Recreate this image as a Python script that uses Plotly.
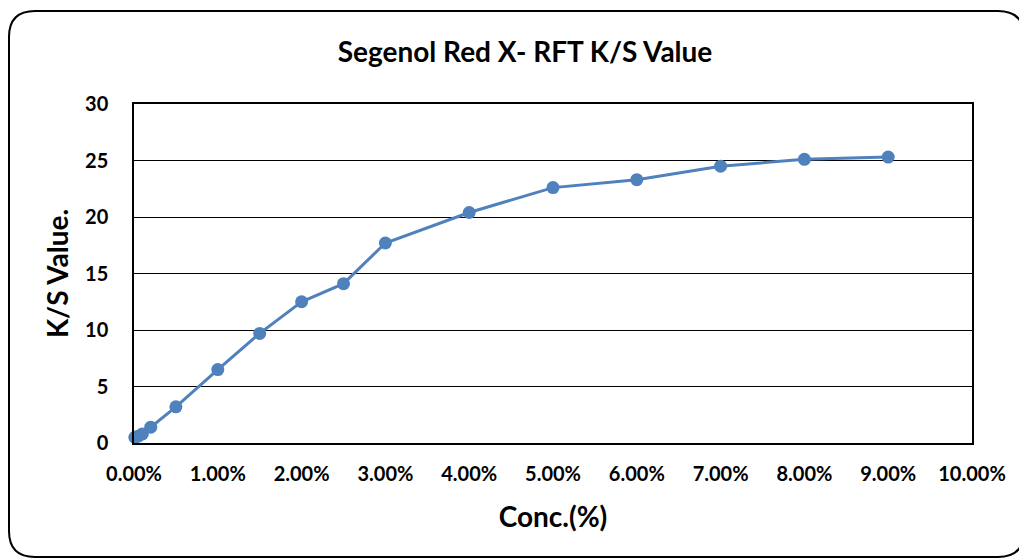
import plotly.graph_objects as go

conc = [0.0001, 0.0005, 0.001, 0.002, 0.005, 0.01, 0.015, 0.02, 0.025, 0.03,
        0.04, 0.05, 0.06, 0.07, 0.08, 0.09]
ks = [0.5, 0.6, 0.8, 1.4, 3.2, 6.5, 9.7, 12.5, 14.1, 17.7,
      20.4, 22.6, 23.3, 24.5, 25.1, 25.3]
x_ticks = [0, 0.01, 0.02, 0.03, 0.04, 0.05, 0.06, 0.07, 0.08, 0.09, 0.10]
y_ticks = [0, 5, 10, 15, 20, 25, 30]

# page body has an 8px margin, so figure coords = screen coords - 8
OFF = 8
W, H = 1027 - OFF, 560 - OFF
L, R, T, B = 134 - OFF, 972 - OFF, 104 - OFF, 443 - OFF
pw, ph = R - L, B - T

def px(x):
    return (x - L) / pw

def py(y):
    return (B - y) / ph

# rounded rectangle border in pixel coords -> paper
x0, x1, y0, y1, r = 1, 1016, 3, 549, 26
path = (f"M {px(x0 + r)} {py(y0)} L {px(x1 - r)} {py(y0)} "
        f"Q {px(x1)} {py(y0)} {px(x1)} {py(y0 + r)} "
        f"L {px(x1)} {py(y1 - r)} Q {px(x1)} {py(y1)} {px(x1 - r)} {py(y1)} "
        f"L {px(x0 + r)} {py(y1)} Q {px(x0)} {py(y1)} {px(x0)} {py(y1 - r)} "
        f"L {px(x0)} {py(y0 + r)} Q {px(x0)} {py(y0)} {px(x0 + r)} {py(y0)} Z")

font = "Lato"
fig = go.Figure()
fig.add_trace(go.Scatter(
    x=conc, y=ks, mode="lines+markers",
    line=dict(color="#4F81BD", width=3),
    marker=dict(color="#4F81BD", size=13),
    showlegend=False, cliponaxis=False,
))
fig.update_layout(
    width=W, height=H,
    margin=dict(l=L, r=W - R, t=T, b=H - B),
    paper_bgcolor="white", plot_bgcolor="white",
    title=dict(text="<b>Segenol Red X- RFT K/S Value</b>", x=px(517), xanchor="center",
               xref="paper", y=1 - 44 / H, yanchor="middle",
               font=dict(family=font, size=28, color="black")),
    xaxis=dict(range=[0, 0.10], tickvals=x_ticks, tickformat=".2%",
               showgrid=False, zeroline=False, showline=True, linecolor="black",
               linewidth=1.5, mirror=True, ticks="",
               tickfont=dict(family=font, size=20, color="black", weight="bold"),
               ticklabelstandoff=12,
               title=dict(text="<b>Conc.(%)</b>", standoff=24,
                          font=dict(family=font, size=28, color="black"))),
    yaxis=dict(range=[0, 30], tickvals=y_ticks, showgrid=True, gridcolor="black",
               gridwidth=1, zeroline=False, showline=True, linecolor="black",
               linewidth=1.5, mirror=True, ticks="",
               tickfont=dict(family=font, size=20, color="black", weight="bold"),
               ticklabelstandoff=20,
               title=dict(text="<b>K/S Value.</b>", standoff=8,
                          font=dict(family=font, size=28, color="black"))),
    shapes=[dict(type="path", path=path, xref="paper", yref="paper",
                 line=dict(color="black", width=2), fillcolor="rgba(0,0,0,0)",
                 layer="below")],
)
fig.write_html("out.html")
